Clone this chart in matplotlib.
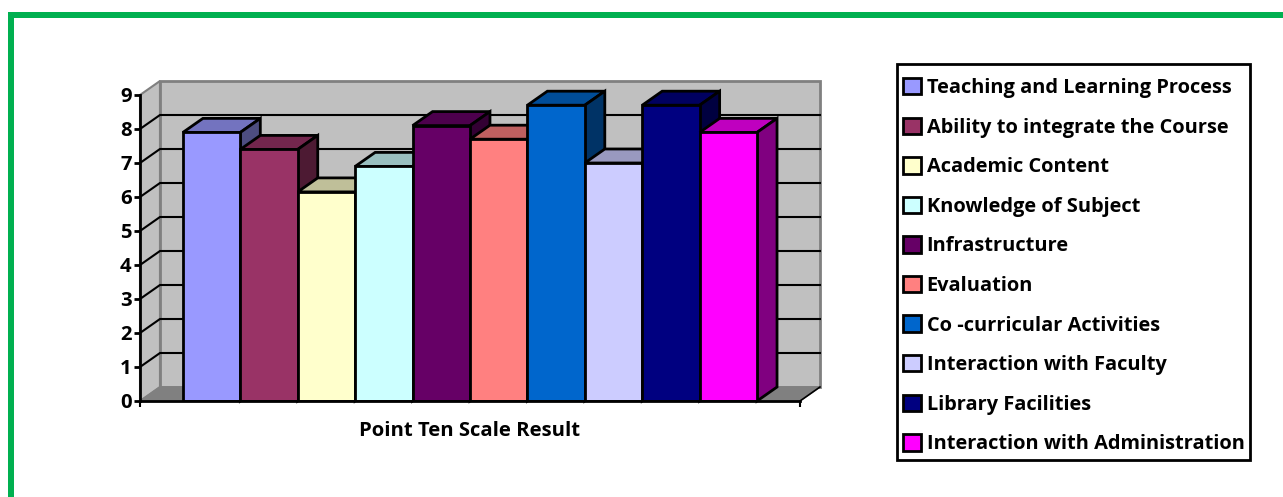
import matplotlib
matplotlib.use("Agg")
import matplotlib.pyplot as plt
from matplotlib.patches import Patch, Polygon, Rectangle
from matplotlib.colors import to_rgb

plt.rcParams['font.family'] = ['Open Sans', 'DejaVu Sans']
plt.rcParams['font.weight'] = 'bold'

# --- Data ---
categories = ["Teaching and Learning Process", "Ability to integrate the Course",
              "Academic Content", "Knowledge of Subject", "Infrastructure", "Evaluation",
              "Co -curricular Activities", "Interaction with Faculty",
              "Library Facilities", "Interaction with Administration"]
values = [7.9, 7.4, 6.15, 6.9, 8.1, 7.7, 8.7, 7.0, 8.7, 7.9]
colors = ["#9999FF", "#993366", "#FFFFCC", "#CCFFFF", "#660066",
          "#FF8080", "#0066CC", "#CCCCFF", "#000080", "#FF00FF"]
y_ticks = [0, 1, 2, 3, 4, 5, 6, 7, 8, 9]
group_label = "Point Ten Scale Result"

W, H = 1283, 497
fig = plt.figure(figsize=(W / 100, H / 100), dpi=100)

# green page border, left and top only
fig.add_artist(Rectangle((8 / W, 0), 6 / W, 1 - 12 / H, transform=fig.transFigure, color="#00B050", lw=0))
fig.add_artist(Rectangle((8 / W, 1 - 18 / H), 1 - 8 / W, 6 / H, transform=fig.transFigure, color="#00B050", lw=0))

# axes is the front plane of the fake 3D box
ax = fig.add_axes([140 / W, 1 - 401 / H, 660 / W, 306 / H])
gap_left, gap_right = 43 / 57.5, 43 / 57.5
x_min, x_max = -0.5 - gap_left, 9.5 + gap_right
ax.set_xlim(x_min, x_max)
ax.set_ylim(0, 9)
ax.patch.set_visible(False)

dx, dy = 20 / 57.5, 14 / 34  # depth offset in data units


def face(points, color, z, edge="black", lw=2):
    ax.add_patch(Polygon(points, closed=True, facecolor=color, edgecolor=edge, lw=lw,
                         zorder=z, clip_on=False, joinstyle="miter"))


# walls and floor
wall = "#C0C0C0"
frame = "#808080"
face([(x_min, 0), (x_min + dx, dy), (x_min + dx, 9 + dy), (x_min, 9)], wall, 1, frame, 1.5)
face([(x_min + dx, dy), (x_max + dx, dy), (x_max + dx, 9 + dy), (x_min + dx, 9 + dy)], wall, 1, frame, 2)
face([(x_min, 0), (x_max, 0), (x_max + dx, dy), (x_min + dx, dy)], frame, 1, frame, 1)

# grid lines run across side wall and back wall
for t in y_ticks[1:-1]:
    ax.plot([x_min, x_min + dx, x_max + dx], [t, t + dy, t + dy], color="black", lw=1.5,
            zorder=2, clip_on=False, solid_joinstyle="miter")
ax.plot([x_max, x_max + dx], [0, dy], color="black", lw=1.2, zorder=2, clip_on=False)

# bars, left to right so each one covers the side of the one before
for i, (v, c) in enumerate(zip(values, colors)):
    rgb = to_rgb(c)
    top = tuple(k * 0.75 for k in rgb)
    side = tuple(k * 0.5 for k in rgb)
    z = 3 + i
    l, r = i - 0.5, i + 0.5
    face([(l, v), (r, v), (r + dx, v + dy), (l + dx, v + dy)], top, z)
    face([(r, 0), (r + dx, dy), (r + dx, v + dy), (r, v)], side, z)
    ax.bar(i, v, width=1, color=c, edgecolor="black", lw=2, zorder=z)

# axis furniture
for name in ["top", "right"]:
    ax.spines[name].set_visible(False)
for name in ["left", "bottom"]:
    ax.spines[name].set_linewidth(2)
    ax.spines[name].set_zorder(20)
ax.set_yticks(y_ticks)
ax.tick_params(axis="y", length=4, width=2, pad=2, labelsize=14.6)
ax.set_xticks([x_min, x_max])
ax.set_xticklabels(["", ""])
ax.tick_params(axis="x", length=4, width=1.5)
ax.text((x_min + x_max) / 2, -0.89, group_label, ha="center", va="center", fontsize=14.6, fontweight="bold")

# legend box is lopsided in the original, so the frame is drawn by hand
fig.add_artist(Rectangle((897 / W, 1 - 460 / H), 353 / W, 396 / H, transform=fig.transFigure,
                         facecolor="white", edgecolor="black", lw=2))
handles = [Patch(facecolor=c, edgecolor="black", lw=2) for c in colors]
leg = fig.legend(handles, categories, loc="upper left", bbox_to_anchor=(897 / W, 1 - 72 / H),
                 borderaxespad=0, fontsize=14.4, frameon=False, handlelength=0.88, handleheight=0.88,
                 handletextpad=0.3, labelspacing=0.975, borderpad=0.3)

fig.savefig("out.png", dpi=100, facecolor="white")
